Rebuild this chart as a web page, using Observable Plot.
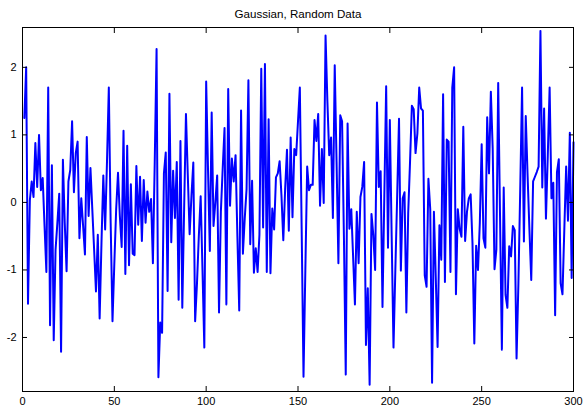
<!DOCTYPE html>
<html><head><meta charset="utf-8">
<script src="https://cdn.jsdelivr.net/npm/d3@7"></script>
<script src="https://cdn.jsdelivr.net/npm/@observablehq/plot@0.6"></script>
<style>body{margin:0;background:#fff}</style>
</head><body><div id="chart"></div>
<script>
const title = "Gaussian, Random Data";
const xTicks = [0, 50, 100, 150, 200, 250, 300];
const yTicks = [-2, -1, 0, 1, 2];
const values = [
 1.25, 2.0, -1.5, 0.03, 0.31, 0.08, 0.88, 0.23, 1.0, 0.18,
 0.36, -0.35, -1.03, 1.70, -1.82, 0.55, -2.04, -0.7, -0.3, 0.13,
 -2.21, 0.63, -0.3, -1.02, 0.31, 0.48, 1.2, 0.15, 0.73, 0.9,
 -0.53, 0.06, -0.35, -0.77, 0.97, -0.2, 0.51, -0.1, -0.7, -1.32,
 -0.48, -1.72, -0.6, 0.4, -0.4, 0.6, 1.70, -0.3, -1.76, -0.9,
 -0.1, 0.44, -0.2, -0.66, 1.06, -1.06, 0.84, -0.93, 0.27, -0.76,
 -0.78, 0.54, -0.33, 0.38, -0.57, 0.33, -0.3, 0.16, -0.14, 0.05,
 -0.9, 0.6, 2.27, -2.59, -1.78, -1.93, 0.43, 0.74, -1.31, 1.61,
 -0.59, 0.47, -0.23, 0.6, -1.44, 0.91, -1.56, -0.1, 1.31, 0.4,
 -0.47, 0.1, 0.59, -1.76, -1.2, -0.5, 0.09, -1.0, -2.15, 1.79,
 0.5, -0.72, 1.33, -0.35, 0.0, 0.4, -1.63, -0.14, 0.5, 1.1,
 -1.51, 1.68, -0.05, 0.65, 0.31, 0.7, -0.5, -1.6, 1.36, -0.76,
 -0.24, 0.2, 1.81, -0.62, 0.32, -1.04, -0.68, -1.03, -0.48, 1.98,
 -0.37, 2.05, -1.03, 1.23, -1.05, -0.09, -0.4, 0.37, 0.43, 0.61,
 0.1, -0.56, 0.2, 0.78, -0.42, 0.96, -0.22, 0.79, 0.7, 1.2,
 1.7, -0.4, -2.58, -1.0, 0.53, 0.18, 0.26, 0.26, 1.22, 0.91,
 1.31, -0.05, 0.79, -0.01, 2.47, 1.5, 0.7, 0.96, -0.23, 2.03,
 0.6, -0.9, 1.29, 1.2, -0.5, -2.55, 1.17, -0.39, -0.1, -0.8,
 -1.51, -0.14, -0.9, 0.08, 0.23, 0.6, -2.11, -1.27, -2.7, -0.17,
 -0.48, -1.0, 1.48, 0.23, 0.46, -1.55, 0.1, 1.72, -0.67, 1.22,
 -0.5, -2.15, -1.0, 0.1, 1.24, -1.01, 0.06, 0.15, -1.63, -0.16,
 0.6, 1.43, 1.38, 0.73, 1.02, 1.7, 1.39, 1.36, -1.08, -1.25,
 0.35, -0.1, -2.67, -0.14, -1.1, -2.14, -0.34, -0.85, 1.6, -1.18,
 0.93, 0.9, -1.03, 1.7, 2.0, -1.36, -0.1, -0.39, -0.51, 1.12,
 -0.57, -0.14, 0.06, 0.12, -0.6, -2.09, -0.64, -1.0, -0.3, 0.86,
 -0.53, -0.67, 1.26, 0.43, 1.64, 0.8, -0.99, -0.7, 1.77, -0.2,
 -2.18, 0.22, -1.37, -1.56, -0.65, -0.8, -0.35, -0.41, -2.31, -1.2,
 0.2, 1.7, -0.58, 1.28, 0.4, -0.4, -1.15, 0.31, 0.38, 0.45,
 0.53, 2.54, 0.22, 1.39, -0.24, 0.7, 1.7, 0.06, 0.29, -1.67,
 0.45, 0.64, -1.2, -1.36, -0.4, 0.53, -0.27, 1.03, -1.12, 0.89
];
const xs = values.map((_, i) => i + 1);
const fmt = d => String(d);

const chart = Plot.plot({
  width: 587, height: 414,
  marginLeft: 22, marginRight: 14, marginTop: 27, marginBottom: 23,
  style: {fontFamily: "'Liberation Sans', Arial, sans-serif", fontSize: "11px", background: "#fff", color: "#000", overflow: "visible"},
  x: {domain: [0, 300]},
  y: {domain: [-2.8, 2.59]},
  marks: [
    Plot.line(values, {x: (d, i) => xs[i], y: d => d, stroke: "#0000ff", strokeWidth: 2}),
    Plot.frame({stroke: "#000"}),
    Plot.axisX({ticks: xTicks, anchor: "bottom", tickSize: -5, tickFormat: () => "", label: null}),
    Plot.axisX({ticks: xTicks, anchor: "top", tickSize: -5, tickFormat: () => "", label: null}),
    Plot.axisY({ticks: yTicks, anchor: "left", tickSize: -5, tickFormat: () => "", label: null}),
    Plot.axisY({ticks: yTicks, anchor: "right", tickSize: -5, tickFormat: () => "", label: null}),
    Plot.axisX({ticks: xTicks, anchor: "bottom", tickSize: 0, tickPadding: 6, tickFormat: fmt, label: null}),
    Plot.axisY({ticks: yTicks, anchor: "left", tickSize: 0, tickPadding: 6, tickFormat: fmt, label: null}),
    Plot.text([title], {frameAnchor: "top", dy: -18, fontSize: 11.6, fill: "#000"})
  ]
});
document.getElementById("chart").appendChild(chart);
</script>
</body></html>
